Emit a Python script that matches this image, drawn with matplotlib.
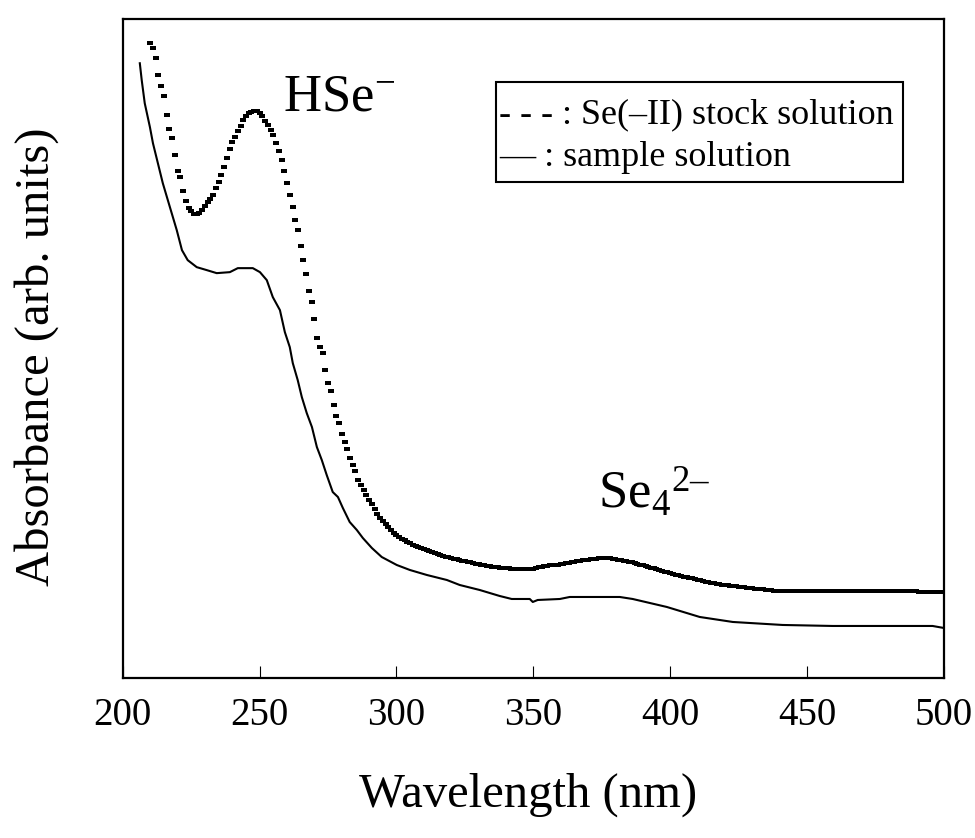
import numpy as np
import matplotlib
matplotlib.use("Agg")
import matplotlib.pyplot as plt
from matplotlib.patches import Rectangle

plt.rcParams['font.family'] = ['Liberation Serif', 'DejaVu Serif']
plt.rcParams['mathtext.fontset'] = 'custom'
plt.rcParams['mathtext.rm'] = 'Liberation Serif'
plt.rcParams['mathtext.it'] = 'Liberation Serif:italic'
plt.rcParams['mathtext.bf'] = 'Liberation Serif:bold'

# Se(-II) stock solution, one point per nm from 210 to 500 nm (arb. units)
stock_wl = np.arange(210, 501)
stock_abs = [
    0.635, 0.630, 0.620, 0.603, 0.592, 0.582, 0.563, 0.549, 0.540, 0.523,
    0.507, 0.501, 0.487, 0.477, 0.470, 0.467, 0.464, 0.464, 0.465, 0.468,
    0.472, 0.476, 0.479, 0.483, 0.490, 0.496, 0.503, 0.511, 0.520, 0.529,
    0.536, 0.541, 0.547, 0.552, 0.558, 0.562, 0.565, 0.566, 0.567, 0.567,
    0.565, 0.562, 0.557, 0.553, 0.548, 0.543, 0.535, 0.527, 0.518, 0.507,
    0.495, 0.483, 0.471, 0.458, 0.448, 0.432, 0.418, 0.404, 0.387, 0.376,
    0.359, 0.340, 0.331, 0.325, 0.308, 0.295, 0.287, 0.273, 0.262, 0.255,
    0.244, 0.236, 0.229, 0.220, 0.213, 0.207, 0.198, 0.193, 0.188, 0.183,
    0.178, 0.174, 0.169, 0.164, 0.160, 0.157, 0.154, 0.151, 0.148, 0.145,
    0.143, 0.141, 0.139, 0.138, 0.136, 0.135, 0.133, 0.132, 0.131, 0.130,
    0.129, 0.128, 0.127, 0.126, 0.125, 0.124, 0.123, 0.122, 0.121, 0.121,
    0.120, 0.119, 0.119, 0.118, 0.117, 0.117, 0.116, 0.116, 0.115, 0.114,
    0.114, 0.113, 0.113, 0.112, 0.112, 0.111, 0.111, 0.111, 0.110, 0.110,
    0.110, 0.110, 0.109, 0.109, 0.109, 0.109, 0.109, 0.109, 0.109, 0.109,
    0.109, 0.110, 0.111, 0.111, 0.112, 0.112, 0.113, 0.113, 0.113, 0.113,
    0.114, 0.114, 0.115, 0.115, 0.116, 0.116, 0.117, 0.117, 0.118, 0.118,
    0.118, 0.119, 0.119, 0.119, 0.120, 0.120, 0.120, 0.120, 0.120, 0.119,
    0.119, 0.118, 0.118, 0.117, 0.117, 0.116, 0.116, 0.115, 0.114, 0.113,
    0.113, 0.112, 0.111, 0.110, 0.110, 0.109, 0.108, 0.107, 0.106, 0.106,
    0.105, 0.104, 0.103, 0.103, 0.102, 0.101, 0.101, 0.100, 0.100, 0.099,
    0.098, 0.098, 0.097, 0.096, 0.096, 0.095, 0.095, 0.094, 0.094, 0.093,
    0.093, 0.093, 0.092, 0.092, 0.092, 0.091, 0.091, 0.091, 0.090, 0.090,
    0.090, 0.089, 0.089, 0.089, 0.089, 0.088, 0.088, 0.088, 0.087, 0.087,
    0.087, 0.087, 0.087, 0.087, 0.087, 0.087, 0.087, 0.087, 0.087, 0.087,
    0.087, 0.087, 0.087, 0.087, 0.087, 0.087, 0.087, 0.087, 0.087, 0.087,
    0.087, 0.087, 0.087, 0.087, 0.087, 0.087, 0.087, 0.087, 0.087, 0.087,
    0.087, 0.087, 0.087, 0.087, 0.087, 0.087, 0.087, 0.087, 0.087, 0.087,
    0.087, 0.087, 0.087, 0.087, 0.087, 0.087, 0.087, 0.087, 0.087, 0.087,
    0.087, 0.086, 0.086, 0.086, 0.086, 0.086, 0.086, 0.086, 0.086, 0.086,
    0.086,
]

# sample solution
sample_wl = [206.2, 206.9, 208.0, 209.9, 211.0, 212.8, 214.6, 217.2, 219.7, 221.6,
             223.7, 227.0, 230.7, 234.3, 239.1, 242.0, 247.5, 250.1, 252.6, 254.8,
             257.4, 259.2, 261.0, 262.1, 263.9, 265.4, 267.2, 269.1, 270.9, 272.7,
             274.5, 276.7, 278.6, 280.4, 282.9, 285.5, 287.7, 291.0, 294.6, 300.1,
             304.9, 311.1, 318.4, 323.1, 330.4, 337.7, 342.1, 348.7, 349.8, 351.6,
             359.7, 363.3, 381.6, 386.3, 398.8, 410.8, 422.9, 441.1, 459.4, 495.9,
             500.0]
sample_abs = [0.615, 0.598, 0.575, 0.551, 0.535, 0.515, 0.495, 0.471, 0.448, 0.428,
              0.418, 0.411, 0.408, 0.405, 0.406, 0.410, 0.410, 0.406, 0.398, 0.381,
              0.368, 0.346, 0.331, 0.315, 0.298, 0.281, 0.265, 0.251, 0.231, 0.218,
              0.203, 0.186, 0.181, 0.170, 0.156, 0.148, 0.140, 0.130, 0.121, 0.113,
              0.108, 0.103, 0.098, 0.093, 0.088, 0.082, 0.079, 0.079, 0.076, 0.078,
              0.079, 0.081, 0.081, 0.079, 0.071, 0.061, 0.056, 0.053, 0.052, 0.052,
              0.050]

xticks = [200, 250, 300, 350, 400, 450, 500]

fig = plt.figure(figsize=(9.75, 8.38), dpi=100)
ax = fig.add_axes([0.126, 0.191, 0.842, 0.786])

# small flat rectangles for the dotted stock trace
dot = [(-1, -0.6), (1, -0.6), (1, 0.6), (-1, 0.6), (-1, -0.6)]
ax.plot(stock_wl, stock_abs, ls='none', marker=dot, ms=4.2, mew=0, color='black')
ax.plot(sample_wl, sample_abs, ls='-', lw=1.5, color='black')

ax.set_xlim(200, 500)
ax.set_ylim(0, 0.659)
ax.set_xticks(xticks)
ax.set_yticks([])
ax.tick_params(axis='x', direction='in', length=8.6, width=0.8, pad=14, labelsize=28)
for s in ax.spines.values():
    s.set_linewidth(1.6)

ax.set_xlabel('Wavelength (nm)', fontsize=35)
ax.set_ylabel('Absorbance (arb. units)', fontsize=35)
ax.xaxis.set_label_coords(0.493, -0.178)
ax.xaxis.label.set_verticalalignment('center')
ax.yaxis.set_label_coords(-0.105, 0.488)
ax.yaxis.label.set_verticalalignment('center')

ax.text(258.5, 0.568, r'HSe$^{-}$', fontsize=38, va='baseline')
ax.text(373.5, 0.170, 'Se$_4$$^{2\u2013}$', fontsize=38, va='baseline')

# legend box drawn as text inside a rectangle
ax.add_patch(Rectangle((0.4543, 0.7527), 0.4957, 0.1517, transform=ax.transAxes,
                       fc='white', ec='black', lw=1.5, zorder=3))
ax.text(0.458, 0.822, '- - - : Se(\u2013II) stock solution\n\u2014 : sample solution',
        transform=ax.transAxes, fontsize=26, va='center', ha='left',
        linespacing=1.38, zorder=4)

fig.savefig('out.png', dpi=100)
